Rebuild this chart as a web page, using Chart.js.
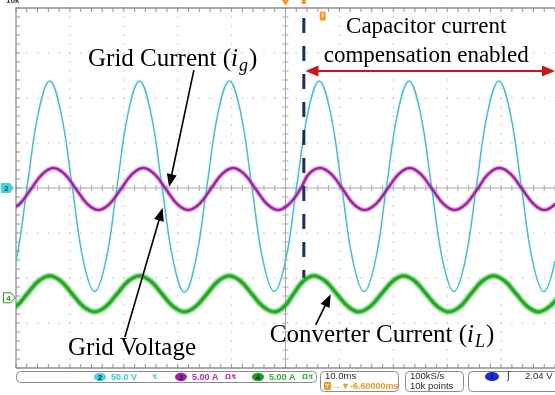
<!DOCTYPE html>
<html>
<head>
<meta charset="utf-8">
<script src="https://cdn.jsdelivr.net/npm/chart.js@4.4.0/dist/chart.umd.min.js"></script>
<style>
  html, body { margin: 0; padding: 0; background: #fff; }
  #scope { display: block; }
</style>
</head>
<body>
<canvas id="scope" width="555" height="395"></canvas>
<script>
// time axis: ms from the left edge of the screen, 10 ms/div
const voltageTime = [-2.08, 0, 2.08, 4.17, 6.25, 8.33, 10.42, 12.5, 14.58, 16.67, 18.75, 20.83, 22.92, 25, 27.08,
  29.17, 31.25, 33.33, 35.42, 37.5, 39.58, 41.67, 43.75, 45.83, 47.92, 50, 52.08, 54.17, 56.25, 58.33, 60.42, 62.5,
  64.58, 66.67, 68.75, 70.83, 72.92, 75, 77.08, 79.17, 81.25, 83.33, 85.42, 87.5, 89.58, 91.67, 93.75, 95.83, 97.92,
  100, 102.08];
// ch2, grid voltage, V (50 V/div)
const gridVoltage = [-115, -81, 2, 84, 119, 84, 2, -81, -115, -81, 2, 84, 119, 84, 2, -81, -116, -81, 2, 84, 119,
  84, 2, -81, -115, -81, 2, 84, 119, 84, 2, -81, -115, -81, 2, 84, 119, 84, 2, -81, -115, -81, 2, 84, 119, 84, 2,
  -81, -115, -81, 2];

const currentTime = [-1.37, 0.71, 2.79, 4.88, 6.96, 9.04, 11.13, 13.21, 15.29, 17.38, 19.46, 21.54, 23.63, 25.71,
  27.79, 29.88, 31.96, 34.04, 36.13, 38.21, 40.29, 42.38, 44.46, 46.54, 48.63, 50.71, 52.79, 54.3, 56.4, 58.5, 60.6,
  62.6, 64.7, 66.8, 68.9, 71.0, 73.05, 75.1, 77.2, 79.3, 81.4, 83.5, 85.6, 87.6, 89.7, 91.8, 93.9, 96.0, 98.0, 100.1,
  102.2];
// ch3, grid current ig, A (5 A/div)
const gridCurrent = [-2.44, -1.76, -0.11, 1.54, 2.22, 1.54, -0.11, -1.76, -2.44, -1.76, -0.11, 1.54, 2.22, 1.54,
  -0.11, -1.76, -2.44, -1.76, -0.11, 1.54, 2.22, 1.54, -0.11, -1.76, -2.44, -1.76, -0.11, 1.54, 2.22, 1.54, -0.11,
  -1.76, -2.44, -1.76, -0.11, 1.54, 2.22, 1.54, -0.11, -1.76, -2.44, -1.76, -0.11, 1.54, 2.22, 1.54, -0.11, -1.76,
  -2.44, -1.76, -0.11];

const converterTime = [-2.08, 0, 2.08, 4.17, 6.25, 8.33, 10.42, 12.5, 14.58, 16.67, 18.75, 20.83, 22.92, 25, 27.08,
  29.17, 31.25, 33.33, 35.42, 37.5, 39.58, 41.67, 43.75, 45.83, 47.92, 49.8, 51.5, 53.3, 55.3, 57.4, 59.5, 61.6, 63.6,
  65.7, 67.8, 69.9, 71.9, 74.0, 76.1, 78.2, 80.3, 82.4, 84.4, 86.5, 88.6, 90.7, 92.8, 94.9, 96.9, 99.0, 101.1];
// ch4, converter current iL, A (5 A/div)
const converterCurrent = [-1.56, -0.97, 0.44, 1.85, 2.44, 1.85, 0.44, -0.97, -1.56, -0.97, 0.44, 1.85, 2.44, 1.85,
  0.44, -0.97, -1.56, -0.97, 0.44, 1.85, 2.44, 1.85, 0.44, -0.97, -1.56, -0.97, 0.44, 1.85, 2.44, 1.85, 0.44, -0.97,
  -1.56, -0.97, 0.44, 1.85, 2.44, 1.85, 0.44, -0.97, -1.56, -0.97, 0.44, 1.85, 2.44, 1.85, 0.44, -0.97, -1.56, -0.97,
  0.44];

const compensationOnMs = 53.4;
const ch4OffsetDiv = -2.44;

const statusChannels = [
  { num: '2', text: '50.0 V', extra: '\u21AF', color: '#35cfdc', fill: '#3fd6e2' },
  { num: '3', text: '5.00 A', extra: '\u03A9\u21AF', color: '#b52fb8', fill: '#a61fa8' },
  { num: '4', text: '5.00 A', extra: '\u03A9\u21AF', color: '#2fb82f', fill: '#1c9e1c' }
];

const toPoints = (xs, ys) => xs.map((x, i) => ({ x: x, y: ys[i] }));

function roundRect(ctx, x, y, w, h, r) {
  ctx.beginPath();
  ctx.moveTo(x + r, y);
  ctx.arcTo(x + w, y, x + w, y + h, r);
  ctx.arcTo(x + w, y + h, x, y + h, r);
  ctx.arcTo(x, y + h, x, y, r);
  ctx.arcTo(x, y, x + w, y, r);
  ctx.closePath();
}

function arrowHead(ctx, x1, y1, x2, y2, len, half) {
  const ang = Math.atan2(y2 - y1, x2 - x1);
  ctx.beginPath();
  ctx.moveTo(x2, y2);
  ctx.lineTo(x2 - len * Math.cos(ang) + half * Math.sin(ang), y2 - len * Math.sin(ang) - half * Math.cos(ang));
  ctx.lineTo(x2 - len * Math.cos(ang) - half * Math.sin(ang), y2 - len * Math.sin(ang) + half * Math.cos(ang));
  ctx.closePath();
  ctx.fill();
}

function arrow(ctx, p1, p2) {
  ctx.strokeStyle = '#000';
  ctx.fillStyle = '#000';
  ctx.lineWidth = 1.6;
  const ang = Math.atan2(p2.y - p1.y, p2.x - p1.x);
  ctx.beginPath();
  ctx.moveTo(p1.x, p1.y);
  ctx.lineTo(p2.x - 8 * Math.cos(ang), p2.y - 8 * Math.sin(ang));
  ctx.stroke();
  arrowHead(ctx, p1.x, p1.y, p2.x, p2.y, 13, 5);
}

// label like "Grid Current (ig)" with italic variable and subscript
function subLabel(ctx, x, y, head, v, sub, size) {
  ctx.textBaseline = 'alphabetic';
  ctx.textAlign = 'left';
  ctx.fillStyle = '#000';
  ctx.font = size + "px 'Liberation Serif'";
  ctx.fillText(head, x, y);
  x += ctx.measureText(head).width;
  ctx.font = 'italic ' + size + "px 'Liberation Serif'";
  ctx.fillText(v, x, y);
  x += ctx.measureText(v).width + 1;
  ctx.font = 'italic ' + Math.round(size * 0.7) + "px 'Liberation Serif'";
  ctx.fillText(sub, x, y + 5);
  x += ctx.measureText(sub).width + 1;
  ctx.font = size + "px 'Liberation Serif'";
  ctx.fillText(')', x, y);
}

const graticule = {
  id: 'graticule',
  beforeDatasetsDraw(chart) {
    const { ctx, chartArea: a, scales } = chart;
    const xs = scales.x, ys = scales.yDiv;
    ctx.save();
    // dotted division lines
    ctx.fillStyle = '#c4c4c4';
    for (let d = 1; d < 10; d++) {
      if (d === 5) continue;
      const px = xs.getPixelForValue(d * 10);
      for (let m = 0; m <= 40; m++) {
        ctx.fillRect(px - 0.6, ys.getPixelForValue(-4 + m * 0.2) - 0.6, 1.3, 1.3);
      }
    }
    for (let d = -3; d <= 3; d++) {
      if (d === 0) continue;
      const py = ys.getPixelForValue(d);
      for (let m = 0; m <= 50; m++) {
        ctx.fillRect(xs.getPixelForValue(m * 2) - 0.6, py - 0.6, 1.3, 1.3);
      }
    }
    // centre cross with minor ticks
    const cx = xs.getPixelForValue(50), cy = ys.getPixelForValue(0);
    ctx.strokeStyle = '#a9a9a9';
    ctx.lineWidth = 1;
    ctx.beginPath();
    ctx.moveTo(a.left, cy); ctx.lineTo(a.right, cy);
    ctx.moveTo(cx, a.top); ctx.lineTo(cx, a.bottom);
    for (let m = 0; m <= 50; m++) {
      const px = xs.getPixelForValue(m * 2);
      ctx.moveTo(px, cy - 3); ctx.lineTo(px, cy + 3);
    }
    for (let m = 0; m <= 40; m++) {
      const py = ys.getPixelForValue(-4 + m * 0.2);
      ctx.moveTo(cx - 3, py); ctx.lineTo(cx + 3, py);
    }
    ctx.stroke();
    // frame with inward ticks
    ctx.strokeStyle = '#8f8f8f';
    ctx.lineWidth = 1.3;
    ctx.beginPath();
    ctx.moveTo(a.left, a.bottom); ctx.lineTo(a.left, a.top); ctx.lineTo(a.right + 2, a.top);
    ctx.moveTo(a.left, a.bottom); ctx.lineTo(a.right + 2, a.bottom);
    ctx.stroke();
    ctx.lineWidth = 1;
    ctx.beginPath();
    for (let m = 0; m <= 50; m++) {
      const px = xs.getPixelForValue(m * 2);
      ctx.moveTo(px, a.top); ctx.lineTo(px, a.top + 4);
      ctx.moveTo(px, a.bottom); ctx.lineTo(px, a.bottom - 4);
    }
    for (let m = 0; m <= 40; m++) {
      const py = ys.getPixelForValue(-4 + m * 0.2);
      ctx.moveTo(a.left, py); ctx.lineTo(a.left + 4, py);
    }
    ctx.stroke();
    ctx.restore();
  },
  afterDatasetsDraw(chart) {
    const { ctx, chartArea: a, scales } = chart;
    const xs = scales.x, ys = scales.yDiv;
    const at = (t, d) => ({ x: xs.getPixelForValue(t), y: ys.getPixelForValue(d) });
    ctx.save();

    // compensation start marker
    const top = at(compensationOnMs, 3.78), bot = at(compensationOnMs, -2.0);
    ctx.strokeStyle = '#14306e';
    ctx.lineWidth = 3;
    ctx.setLineDash([15, 13]);
    ctx.beginPath();
    ctx.moveTo(top.x, top.y); ctx.lineTo(bot.x, bot.y);
    ctx.stroke();
    ctx.setLineDash([]);

    // red double arrow
    const r1 = at(compensationOnMs + 0.3, 2.6), r2 = at(100, 2.6);
    ctx.strokeStyle = '#cc1616';
    ctx.fillStyle = '#cc1616';
    ctx.lineWidth = 2.2;
    ctx.beginPath();
    ctx.moveTo(r1.x + 8, r1.y); ctx.lineTo(r2.x - 8, r2.y);
    ctx.stroke();
    arrowHead(ctx, r2.x, r2.y, r1.x, r1.y, 13, 5.5);
    arrowHead(ctx, r1.x, r1.y, r2.x, r2.y, 13, 5.5);

    // texts
    ctx.fillStyle = '#000';
    ctx.textAlign = 'center';
    ctx.font = "23px 'Liberation Serif'";
    const c1 = at(76.1, 3.44), c2 = at(76.1, 2.8);
    ctx.fillText('Capacitor current', c1.x, c1.y);
    ctx.fillText('compensation enabled', c2.x, c2.y);

    const gc = at(13.36, 2.71);
    subLabel(ctx, gc.x, gc.y, 'Grid Current (', 'i', 'g', 25);
    const cc = at(47.1, -3.42);
    subLabel(ctx, cc.x, cc.y, 'Converter Current (', 'i', 'L', 25);
    const gv = at(9.65, -3.71);
    ctx.textAlign = 'left';
    ctx.font = "25px 'Liberation Serif'";
    ctx.fillText('Grid Voltage', gv.x, gv.y);

    arrow(ctx, at(33.0, 2.62), at(28.4, 0.02));
    arrow(ctx, at(20.2, -3.31), at(27.2, -0.44));
    arrow(ctx, at(55.6, -3.04), at(58.4, -2.36));

    // channel ground markers on the left
    const m2 = at(0, 0).y, m4 = at(0, ch4OffsetDiv).y;
    ctx.fillStyle = '#3fd6e2';
    ctx.beginPath();
    ctx.moveTo(1, m2 - 5); ctx.lineTo(10, m2 - 5); ctx.lineTo(14, m2); ctx.lineTo(10, m2 + 5); ctx.lineTo(1, m2 + 5);
    ctx.closePath(); ctx.fill();
    ctx.fillStyle = '#123a7a';
    ctx.font = "bold 8px 'Liberation Sans'";
    ctx.textAlign = 'center';
    ctx.textBaseline = 'middle';
    ctx.fillText('2', 6.5, m2 + 0.5);
    ctx.strokeStyle = '#1c9e1c';
    ctx.lineWidth = 1;
    ctx.fillStyle = '#fff';
    ctx.beginPath();
    ctx.moveTo(3.5, m4 - 5); ctx.lineTo(11, m4 - 5); ctx.lineTo(15, m4); ctx.lineTo(11, m4 + 5); ctx.lineTo(3.5, m4 + 5);
    ctx.closePath(); ctx.fill(); ctx.stroke();
    ctx.fillStyle = '#1c9e1c';
    ctx.fillText('4', 8.5, m4 + 0.5);

    // trigger markers along the top
    const tp = at(50, 4);
    ctx.fillStyle = '#f29a1c';
    ctx.beginPath();
    ctx.moveTo(tp.x - 3.5, 0); ctx.lineTo(tp.x + 3.5, 0); ctx.lineTo(tp.x, tp.y - 2);
    ctx.closePath(); ctx.fill();
    const cp = at(compensationOnMs, 4);
    ctx.fillRect(cp.x - 2, 0, 4, 4);
    const ub = at(56.9, 3.82);
    roundRect(ctx, ub.x - 3, ub.y - 4.5, 6, 9, 1.5);
    ctx.fill();
    ctx.fillStyle = '#ffe0a0';
    ctx.fillRect(ub.x - 1, ub.y - 3, 2, 4);

    // clipped header text
    ctx.fillStyle = '#333';
    ctx.textAlign = 'left';
    ctx.textBaseline = 'alphabetic';
    ctx.font = "bold 8px 'Liberation Sans'";
    ctx.fillText('10k', a.left - 10, 3);
    ctx.restore();
  }
};

const statusBar = {
  id: 'statusBar',
  afterDraw(chart) {
    const { ctx } = chart;
    ctx.save();
    ctx.strokeStyle = '#8a8a8a';
    ctx.lineWidth = 1;
    roundRect(ctx, 16.5, 371.5, 300, 11, 4); ctx.stroke();
    roundRect(ctx, 320.5, 371.5, 78, 20, 4); ctx.stroke();
    roundRect(ctx, 405.5, 371.5, 58, 20, 4); ctx.stroke();
    roundRect(ctx, 468.5, 371.5, 100, 20, 4); ctx.stroke();

    ctx.textBaseline = 'middle';
    let x = 94;
    statusChannels.forEach(ch => {
      ctx.fillStyle = ch.fill;
      ctx.beginPath();
      ctx.ellipse(x + 6, 377, 6, 4.2, 0, 0, Math.PI * 2);
      ctx.fill();
      ctx.fillStyle = '#10264a';
      ctx.font = "bold 8px 'Liberation Sans'";
      ctx.textAlign = 'center';
      ctx.fillText(ch.num, x + 6, 377.5);
      ctx.textAlign = 'left';
      ctx.fillStyle = ch.color;
      ctx.font = "bold 9px 'Liberation Sans'";
      ctx.fillText(ch.text, x + 17, 377.5);
      ctx.font = "bold 7px 'DejaVu Sans'";
      ctx.fillText(ch.extra, x + (ch.extra.length > 1 ? 50 : 58), 377);
      x += ch.num === '2' ? 81 : 77;
    });

    ctx.fillStyle = '#2a2a2a';
    ctx.font = "9.5px 'Liberation Sans'";
    ctx.fillText('10.0ms', 325, 376.5);
    ctx.fillText('100kS/s', 410, 376.5);
    ctx.fillText('10k points', 410, 386.5);
    ctx.fillText('2.04 V', 525, 376.5);
    ctx.font = "10px 'DejaVu Sans'";
    ctx.fillText('\u0283', 507, 376.5);

    ctx.fillStyle = '#f29a1c';
    roundRect(ctx, 324, 382, 7, 8, 1.5); ctx.fill();
    ctx.fillStyle = '#fff';
    ctx.font = "bold 6px 'Liberation Sans'";
    ctx.fillText('T', 325.5, 386.5);
    ctx.fillStyle = '#f29a1c';
    ctx.font = "bold 9px 'Liberation Sans'";
    ctx.fillText('\u2192\u25BC-6.60000ms', 332, 386.5);

    ctx.fillStyle = '#1a2fd8';
    ctx.beginPath();
    ctx.ellipse(492, 376.5, 7, 4.5, 0, 0, Math.PI * 2);
    ctx.fill();
    ctx.fillStyle = '#0a1040';
    ctx.font = "bold 8px 'Liberation Sans'";
    ctx.textAlign = 'center';
    ctx.fillText('1', 492, 377);
    ctx.restore();
  }
};

new Chart(document.getElementById('scope'), {
  type: 'line',
  data: {
    datasets: [
      {
        label: 'Grid Voltage',
        data: toPoints(voltageTime, gridVoltage),
        yAxisID: 'yV',
        borderColor: '#3cc4cc',
        borderWidth: 1.5,
        order: 2
      },
      {
        label: 'Grid Current fuzz',
        data: toPoints(currentTime, gridCurrent),
        yAxisID: 'yIg',
        borderColor: 'rgba(170, 40, 170, 0.35)',
        borderWidth: 5,
        order: 3
      },
      {
        label: 'Grid Current',
        data: toPoints(currentTime, gridCurrent),
        yAxisID: 'yIg',
        borderColor: '#a21fa5',
        borderWidth: 2.4,
        order: 1
      },
      {
        label: 'Converter Current fuzz',
        data: toPoints(converterTime, converterCurrent),
        yAxisID: 'yIL',
        borderColor: 'rgba(40, 170, 40, 0.4)',
        borderWidth: 6.5,
        order: 5
      },
      {
        label: 'Converter Current',
        data: toPoints(converterTime, converterCurrent),
        yAxisID: 'yIL',
        borderColor: '#1fae1f',
        borderWidth: 3.4,
        order: 4
      }
    ]
  },
  options: {
    responsive: false,
    animation: false,
    devicePixelRatio: 1,
    layout: { padding: { left: 16, top: 8, right: 0, bottom: 27 } },
    elements: {
      point: { radius: 0, hoverRadius: 0 },
      line: { tension: 0.4, fill: false }
    },
    plugins: { legend: { display: false }, tooltip: { enabled: false } },
    events: [],
    scales: {
      x: { type: 'linear', min: 0, max: 100, display: false },
      yDiv: { axis: 'y', min: -4, max: 4, display: false },
      yV: { axis: 'y', min: -200, max: 200, display: false },
      yIg: { axis: 'y', min: -20, max: 20, display: false },
      yIL: { axis: 'y', min: (-4 - ch4OffsetDiv) * 5, max: (4 - ch4OffsetDiv) * 5, display: false }
    }
  },
  plugins: [graticule, statusBar]
});
</script>
</body>
</html>
